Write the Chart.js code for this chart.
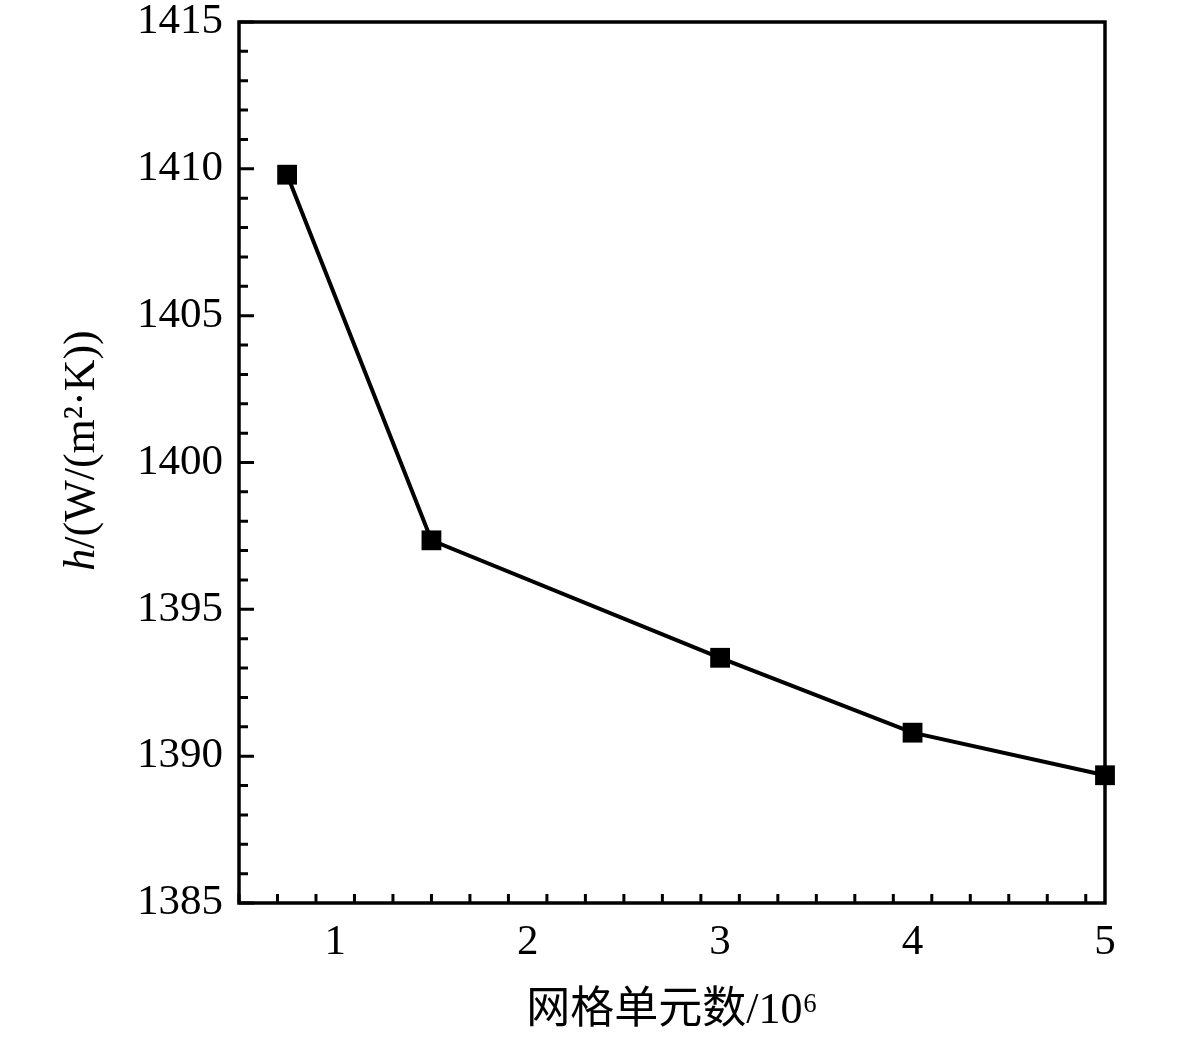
<!DOCTYPE html>
<html>
<head>
<meta charset="utf-8">
<script src="https://cdn.jsdelivr.net/npm/chart.js@4.4.1/dist/chart.umd.min.js"></script>
<style>
  html, body { margin: 0; padding: 0; background: #fff; }
  #wrap { width: 1181px; height: 1038px; }
</style>
</head>
<body>
<div id="wrap"><canvas id="c"></canvas></div>
<script>
// grid cell count (10^6) vs heat transfer coefficient
const meshCells = [0.75, 1.5, 3, 4, 5];
const hValues = [1409.8, 1397.35, 1393.35, 1390.8, 1389.35];

const xTicks = [1, 2, 3, 4, 5];
const yTicks = [1385, 1390, 1395, 1400, 1405, 1410, 1415];
const xMinorStep = 0.2;
const yMinorStep = 1;

const serif = '"Liberation Serif", "Times New Roman", "Noto Sans CJK SC", serif';

// ticks pointing inward + frame box + y title with italic h
const framePlugin = {
    id: 'frame',
    afterDraw(chart) {
        const ctx = chart.ctx;
        const a = chart.chartArea;
        const xs = chart.scales.x;
        const ys = chart.scales.y;
        ctx.save();
        ctx.strokeStyle = '#000';
        ctx.lineWidth = 3.5;
        ctx.strokeRect(a.left, a.top, a.right - a.left, a.bottom - a.top);

        ctx.lineWidth = 3;
        ctx.beginPath();
        for (let v = xs.min; v <= xs.max + 1e-9; v += xMinorStep) {
            const major = xTicks.some(t => Math.abs(t - v) < 1e-6);
            const px = xs.getPixelForValue(v);
            ctx.moveTo(px, a.bottom);
            ctx.lineTo(px, a.bottom - (major ? 15 : 9));
        }
        for (let v = ys.min; v <= ys.max + 1e-9; v += yMinorStep) {
            const major = yTicks.some(t => Math.abs(t - v) < 1e-6);
            const py = ys.getPixelForValue(v);
            ctx.moveTo(a.left, py);
            ctx.lineTo(a.left + (major ? 15 : 9), py);
        }
        ctx.stroke();

        // y axis title
        ctx.translate(82, (a.top + a.bottom) / 2 - 12);
        ctx.rotate(-Math.PI / 2);
        ctx.fillStyle = '#000';
        ctx.textBaseline = 'middle';
        const italic = 'italic 44px ' + serif;
        const normal = '44px ' + serif;
        const rest = '/(W/(m²·K))';
        ctx.font = italic;
        const w1 = ctx.measureText('h').width;
        ctx.font = normal;
        const w2 = ctx.measureText(rest).width;
        const x0 = -(w1 + w2) / 2;
        ctx.font = italic;
        ctx.textAlign = 'left';
        ctx.fillText('h', x0, 0);
        ctx.font = normal;
        ctx.fillText(rest, x0 + w1, 0);
        ctx.restore();
    }
};

new Chart(document.getElementById('c'), {
    type: 'line',
    data: {
        datasets: [{
            label: 'h',
            data: meshCells.map((x, i) => ({ x: x, y: hValues[i] })),
            borderColor: '#000',
            backgroundColor: '#000',
            borderWidth: 4,
            pointStyle: 'rect',
            pointRadius: 14,
            pointHoverRadius: 14,
            pointBorderWidth: 0,
            tension: 0,
            clip: false
        }]
    },
    options: {
        responsive: true,
        maintainAspectRatio: false,
        animation: false,
        layout: { padding: { top: 22, right: 76, left: 0, bottom: 0 } },
        plugins: {
            legend: { display: false },
            tooltip: { enabled: false }
        },
        scales: {
            x: {
                type: 'linear',
                min: 0.5,
                max: 5,
                afterBuildTicks: s => { s.ticks = xTicks.map(v => ({ value: v })); },
                afterFit: s => { s.height = 135; s.paddingLeft = 0; s.paddingRight = 0; },
                grid: { display: false, drawTicks: false },
                border: { display: false },
                ticks: {
                    color: '#000',
                    padding: 14,
                    maxRotation: 0,
                    callback: v => String(v),
                    font: { family: serif, size: 43 }
                },
                title: {
                    display: true,
                    text: '网格单元数/10⁶',
                    color: '#000',
                    padding: { top: 10, bottom: 0 },
                    font: { family: serif, size: 44 }
                }
            },
            y: {
                type: 'linear',
                min: 1385,
                max: 1415,
                afterBuildTicks: s => { s.ticks = yTicks.map(v => ({ value: v })); },
                afterFit: s => { s.width = 239; s.paddingTop = 0; s.paddingBottom = 0; },
                grid: { display: false, drawTicks: false },
                border: { display: false },
                ticks: {
                    color: '#000',
                    padding: 16,
                    callback: v => String(v),
                    font: { family: serif, size: 43 }
                }
            }
        }
    },
    plugins: [framePlugin]
});
</script>
</body>
</html>
